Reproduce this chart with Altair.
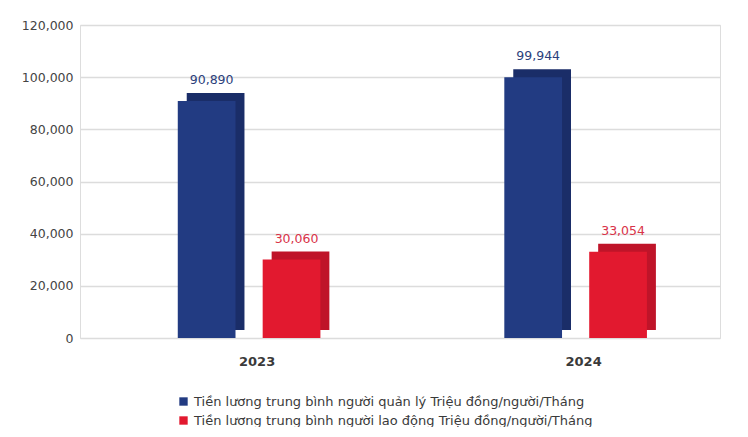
import altair as alt
import pandas as pd

years = ["2023", "2024"]
series_names = [
    "Tiền lương trung bình người quản lý Triệu đồng/người/Tháng",
    "Tiền lương trung bình người lao động  Triệu đồng/người/Tháng",
]
manager = [90890, 99944]
worker = [30060, 33054]

front_colors = ["#223b82", "#e2192f"]
side_colors = ["#1a2d68", "#bf1429"]
label_colors = ["#2c3f7c", "#d93349"]

rows = []
for i, y in enumerate(years):
    for j, vals in enumerate([manager, worker]):
        rows.append({
            "year": y,
            "series": series_names[j],
            "value": vals[i],
            "label": f"{vals[i]:,}",
            "side": side_colors[j],
            "lab_color": label_colors[j],
        })
df = pd.DataFrame(rows)

FONT = "DejaVu Sans"

x_enc = alt.X(
    "year:N",
    title=None,
    sort=years,
    scale=alt.Scale(paddingInner=0.48, paddingOuter=0.22, align=0.586),
    axis=alt.Axis(
        labelAngle=0, domain=False, ticks=False, grid=False,
        labelPadding=17, labelOffset=8, labelFontSize=13,
        labelFontWeight="bold", labelColor="#3a3a3a", labelFont=FONT,
    ),
)


def xo_enc(align):
    return alt.XOffset(
        "series:N", sort=series_names,
        scale=alt.Scale(type="band", paddingInner=0.32, paddingOuter=0.16, align=align),
    )


y_enc = alt.Y(
    "value:Q",
    title=None,
    scale=alt.Scale(domain=[0, 120000], nice=False),
    axis=alt.Axis(
        values=[0, 20000, 40000, 60000, 80000, 100000, 120000],
        format=",d", domain=False, ticks=False, labelPadding=7,
        labelFontSize=12.5, labelColor="#444444", labelFont=FONT,
        gridColor="#dcdcdc", gridWidth=1.5,
    ),
)

base = alt.Chart(df)

depth = base.mark_bar(yOffset=-8).encode(
    x=x_enc, xOffset=xo_enc(0.83), y=y_enc,
    color=alt.Color("side:N", scale=None, legend=None),
)

front = base.mark_bar().encode(
    x=x_enc, xOffset=xo_enc(0.5), y=y_enc,
    color=alt.Color(
        "series:N", sort=series_names,
        scale=alt.Scale(domain=series_names, range=front_colors),
        legend=alt.Legend(
            title=None, orient="none", legendX=97, legendY=370,
            direction="vertical", symbolType="square", symbolSize=70,
            labelFontSize=13, labelColor="#3a3a3a", labelFont=FONT,
            rowPadding=5, labelLimit=700,
        ),
    ),
)

labels = base.mark_text(dy=-14, dx=5, fontSize=12.5, font=FONT, baseline="bottom").encode(
    x=x_enc, xOffset=xo_enc(0.5), y=y_enc,
    text="label:N",
    color=alt.Color("lab_color:N", scale=None, legend=None),
)

chart = (
    alt.layer(depth, front, labels)
    .resolve_scale(color="independent", xOffset="independent")
    .properties(
        width=640, height=313,
        padding={"left": 72, "top": 17, "right": 14, "bottom": 89},
        autosize=alt.AutoSizeParams(type="none"),
    )
    .configure_view(stroke="transparent", strokeOpacity=0, strokeWidth=0)
    .configure_axisX(grid=False, domain=False)
    .configure(background="white")
)

chart.save("out.html", embed_options={"renderer": "svg", "actions": False})
